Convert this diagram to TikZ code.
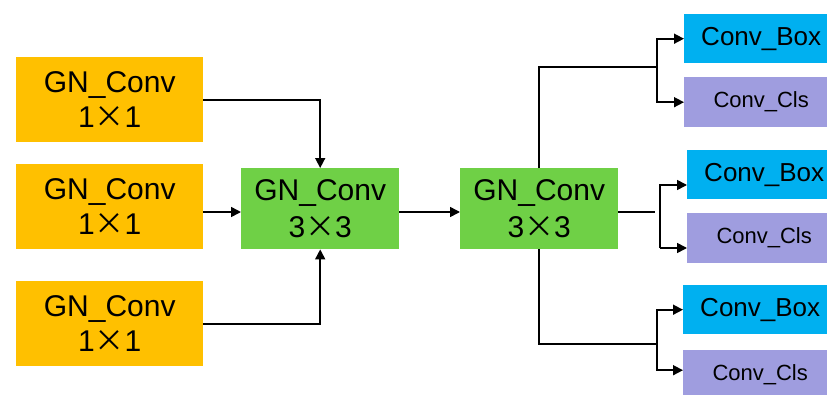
\documentclass[tikz,border=0pt]{standalone}
\usepackage{fontspec}
\setmainfont{Liberation Sans}
\newfontfamily\cjk{Noto Sans CJK SC}[RawFeature=+fwid]
\usetikzlibrary{arrows.meta,positioning}
\definecolor{gnorange}{HTML}{FFC000}
\definecolor{gngreen}{HTML}{6FD046}
\definecolor{boxblue}{HTML}{00B0F0}
\definecolor{clspurple}{HTML}{9F9DDF}
\newcommand{\crossx}{{\cjk ×}}

\begin{document}
\begin{tikzpicture}[
  x=1pt, y=-1pt,
  inblock/.style={rectangle, fill=gnorange, minimum width=187pt, minimum height=85pt, inner sep=0pt, align=center, anchor=north west, font=\fontsize{30}{35}\selectfont},
  gnblock/.style={rectangle, fill=gngreen, minimum width=158pt, minimum height=81pt, inner sep=0pt, align=center, anchor=north west, font=\fontsize{30}{37}\selectfont},
  boxblock/.style={rectangle, fill=boxblue, minimum width=154pt, minimum height=49pt, inner sep=0pt, anchor=north west, font=\fontsize{26}{30}\selectfont},
  clsblock/.style={rectangle, fill=clspurple, minimum width=154pt, minimum height=50pt, inner sep=0pt, anchor=north west, font=\fontsize{22}{26}\selectfont},
  arrow/.style={-{Triangle[length=10pt,width=10pt]}, line width=1.6pt},
  line/.style={line width=1.6pt}
]
  \useasboundingbox (0,0) rectangle (827,394);

  % inputs
  \node[inblock] (in1) at (16,57) {GN\_Conv\\1\crossx 1};
  \node[inblock] (in2) at (16,164) {GN\_Conv\\1\crossx 1};
  \node[inblock] (in3) at (16,281) {GN\_Conv\\1\crossx 1};

  % 3x3 convs
  \node[gnblock] (gn1) at (241,168) {GN\_Conv\\3\crossx 3};
  \node[gnblock] (gn2) at (460,168) {GN\_Conv\\3\crossx 3};

  % heads
  \node[boxblock] (box1) at (684,14) {Conv\_Box};
  \node[clsblock] (cls1) at (684,77) {Conv\_Cls};
  \node[boxblock] (box2) at (687,150) {Conv\_Box};
  \node[clsblock] (cls2) at (687,213) {Conv\_Cls};
  \node[boxblock] (box3) at (683,285) {Conv\_Box};
  \node[clsblock] (cls3) at (683,350) {Conv\_Cls};

  \coordinate (mid) at (0,212);
  \coordinate (split1) at (657,67);
  \coordinate (end2) at (655,212);
  \coordinate (up2) at (660,185);
  \coordinate (down2) at (660,248);
  \coordinate (split3) at (657,344);

  \draw[arrow] (in1) -| (gn1);
  \draw[arrow] (mid -| in2.east) -- (mid -| gn1.west);
  \draw[arrow] (in3) -| (gn1);
  \draw[arrow] (mid -| gn1.east) -- (mid -| gn2.west);

  \draw[line] (gn2.north) |- (split1);
  \draw[arrow] (split1) |- (box1);
  \draw[arrow] (split1) |- (cls1);

  \draw[line] (mid -| gn2.east) -- (end2);
  \draw[arrow] (down2) -- (up2) -- (up2 -| box2.west);
  \draw[arrow] (down2) -- (down2 -| cls2.west);

  \draw[line] (gn2.south) |- (split3);
  \draw[arrow] (split3) |- (box3);
  \draw[arrow] (split3) |- ([yshift=5pt]cls3.west);
\end{tikzpicture}
\end{document}
